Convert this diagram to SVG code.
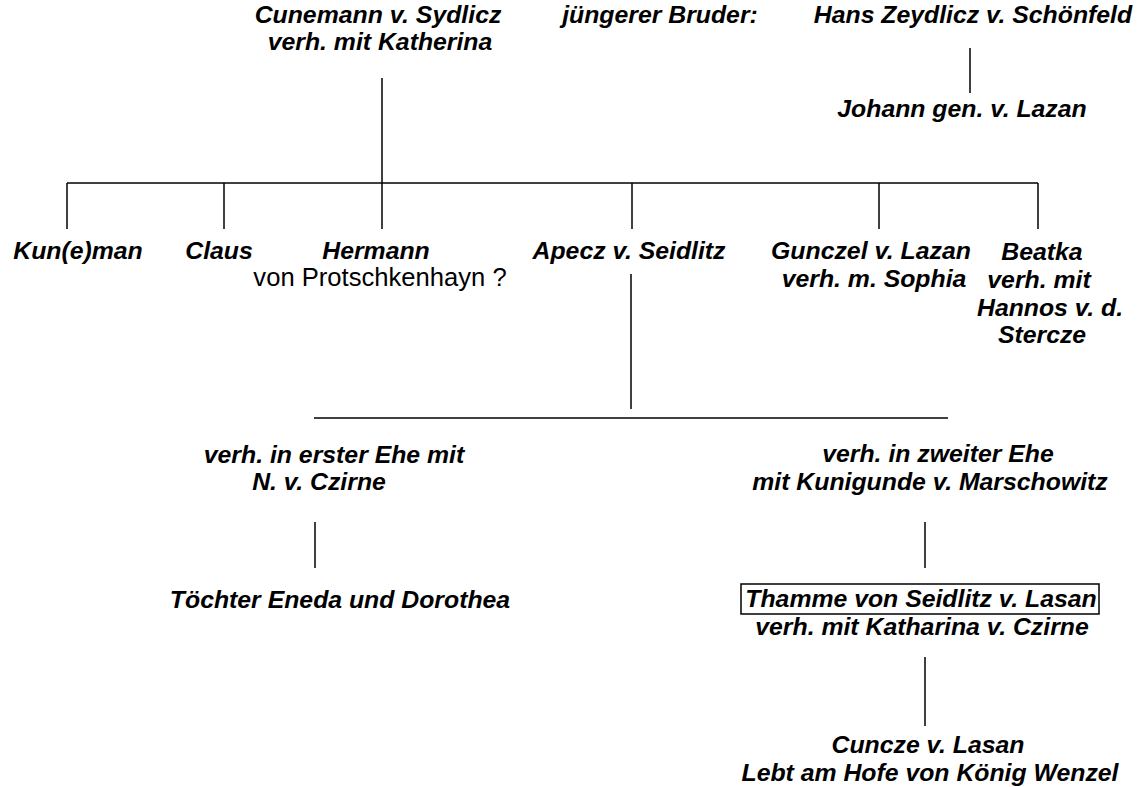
<svg xmlns="http://www.w3.org/2000/svg" width="1141" height="787" viewBox="0 0 1141 787">
<style>
text{font-family:"Liberation Sans",Arial,sans-serif;font-size:24.8px;font-weight:bold;font-style:italic;fill:#000;text-anchor:middle}
text.plain{font-weight:normal;font-style:normal;font-size:25.6px}
.c line{stroke:#000;stroke-width:1.5;fill:none}
.box{fill:none;stroke:#000;stroke-width:1.5}
</style>
<rect width="1141" height="787" fill="#fff"/>
<g class="c" id="connectors">
<line x1="382" y1="78" x2="382" y2="183"/>
<line x1="67" y1="183" x2="1038" y2="183"/>
<line x1="67" y1="183" x2="67" y2="229"/>
<line x1="224" y1="183" x2="224" y2="229"/>
<line x1="382" y1="183" x2="382" y2="229"/>
<line x1="632" y1="183" x2="632" y2="229"/>
<line x1="879" y1="183" x2="879" y2="229"/>
<line x1="1038" y1="183" x2="1038" y2="229"/>
<line x1="970" y1="48" x2="970" y2="93"/>
<line x1="631" y1="274" x2="631" y2="409"/>
<line x1="314" y1="418" x2="948" y2="418"/>
<line x1="315" y1="522" x2="315" y2="568"/>
<line x1="925" y1="522" x2="925" y2="568"/>
<line x1="925" y1="657" x2="925" y2="726"/>
</g>
<g id="cunemann"><text x="378" y="23">Cunemann v. Sydlicz</text><text x="380" y="50">verh. mit Katherina</text></g>
<g id="bruder"><text x="660" y="23">jüngerer Bruder:</text></g>
<g id="hans"><text x="973" y="23">Hans Zeydlicz v. Schönfeld</text></g>
<g id="johann"><text x="962" y="117">Johann gen. v. Lazan</text></g>
<g id="kuneman"><text x="78" y="259">Kun(e)man</text></g>
<g id="claus"><text x="219" y="259">Claus</text></g>
<g id="hermann"><text x="376" y="259">Hermann</text><text class="plain" x="380" y="286">von Protschkenhayn ?</text></g>
<g id="apecz"><text x="629" y="259">Apecz v. Seidlitz</text></g>
<g id="gunczel"><text x="871" y="259">Gunczel v. Lazan</text><text x="874" y="287">verh. m. Sophia</text></g>
<g id="beatka"><text x="1042" y="260">Beatka</text><text x="1039" y="288">verh. mit</text><text x="1050" y="316">Hannos v. d.</text><text x="1042" y="343">Stercze</text></g>
<g id="ehe1"><text x="334" y="463">verh. in erster Ehe mit</text><text x="319" y="490">N. v. Czirne</text></g>
<g id="ehe2"><text x="938" y="462">verh. in zweiter Ehe</text><text x="930" y="490">mit Kunigunde v. Marschowitz</text></g>
<g id="toechter"><text x="340" y="608">Töchter Eneda und Dorothea</text></g>
<g id="thamme"><rect class="box" x="741" y="584" width="358" height="30"/><text x="921" y="607">Thamme von Seidlitz v. Lasan</text><text x="922" y="635">verh. mit Katharina v. Czirne</text></g>
<g id="cuncze"><text x="928" y="753">Cuncze v. Lasan</text><text x="930" y="781">Lebt am Hofe von König Wenzel</text></g>
</svg>
